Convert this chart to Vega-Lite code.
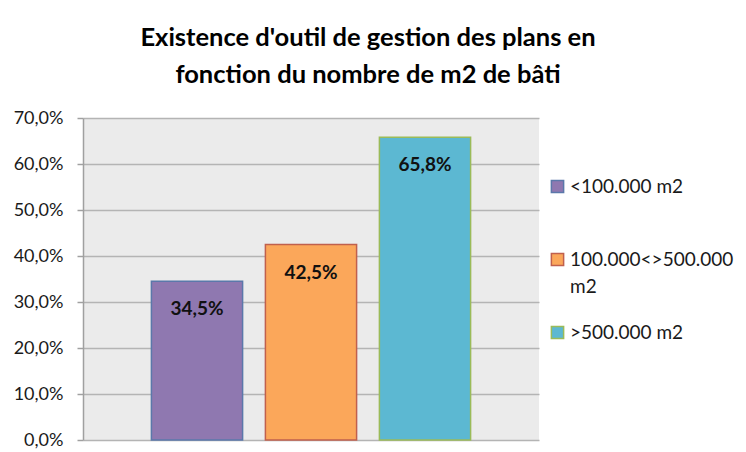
{
  "$schema": "https://vega.github.io/schema/vega-lite/v6.json",
  "width": 456,
  "height": 322,
  "autosize": {"type": "none"},
  "padding": {"left": 83, "top": 118, "right": 207, "bottom": 12},
  "background": "white",
  "title": {
    "text": ["Existence d'outil de gestion des plans en", "fonction du nombre de m2 de bâti"],
    "font": "Lato",
    "fontSize": 25.5,
    "fontWeight": "bold",
    "color": "#000000",
    "anchor": "middle",
    "dx": 57,
    "lineHeight": 37,
    "offset": 21
  },
  "data": {
    "values": [
      {"classe": "<100.000 m2", "part": 0.345},
      {"classe": "100.000<>500.000 m2", "part": 0.425},
      {"classe": ">500.000 m2", "part": 0.658}
    ]
  },
  "encoding": {
    "x": {
      "field": "classe",
      "type": "nominal",
      "sort": null,
      "scale": {"paddingInner": 0.2, "paddingOuter": 0.6},
      "axis": null
    },
    "y": {
      "field": "part",
      "type": "quantitative",
      "scale": {"domain": [0, 0.7], "nice": false},
      "axis": {
        "format": ".1%",
        "values": [0, 0.1, 0.2, 0.3, 0.4, 0.5, 0.6, 0.7],
        "title": null,
        "labelFont": "Lato",
        "labelFontSize": 18,
        "labelColor": "#1a1a1a",
        "labelPadding": 14,
        "tickSize": 6,
        "tickColor": "#a0a0a0",
        "tickWidth": 1.5,
        "domainColor": "#a0a0a0",
        "domainWidth": 1.5,
        "gridColor": "#b4b4b4",
        "gridWidth": 1.5
      }
    }
  },
  "layer": [
    {
      "mark": {"type": "bar", "strokeWidth": 1.5},
      "encoding": {
        "color": {
          "field": "classe",
          "type": "nominal",
          "sort": null,
          "scale": {"range": ["#8f78b0", "#fba75a", "#5cb8d2"]},
          "legend": {
            "title": null,
            "orient": "none",
            "legendX": 465,
            "legendY": 59,
            "gridAlign": "all",
            "symbolType": "square",
            "symbolSize": 150,
            "symbolStrokeWidth": 1.5,
            "symbolOpacity": 1,
            "labelFont": "Lato",
            "labelFontSize": 19,
            "labelColor": "#1a1a1a",
            "labelLimit": 220,
            "labelOffset": 3,
            "rowPadding": 26,
            "labelExpr": "datum.label == '100.000<>500.000 m2' ? ['100.000<>500.000', 'm2'] : datum.label"
          }
        },
        "stroke": {
          "field": "classe",
          "type": "nominal",
          "sort": null,
          "scale": {"range": ["#5b78aa", "#c0604d", "#9bbb59"]},
          "legend": null
        }
      }
    },
    {
      "mark": {
        "type": "text",
        "font": "Lato",
        "fontSize": 19,
        "fontWeight": "bold",
        "color": "#111111",
        "baseline": "middle",
        "dy": 28
      },
      "encoding": {
        "text": {"field": "part", "type": "quantitative", "format": ".1%"}
      }
    }
  ],
  "config": {
    "locale": {
      "number": {"decimal": ",", "thousands": ".", "grouping": [3], "currency": ["", " €"]}
    },
    "view": {"fill": "#ebebeb", "stroke": null},
    "axis": {"gridDash": []},
    "style": {"guide-label": {"lineHeight": 27}}
  }
}
